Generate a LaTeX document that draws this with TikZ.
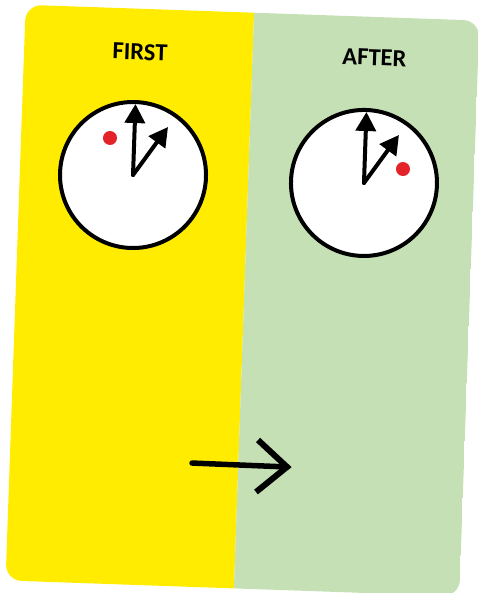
\documentclass[tikz,border=0pt]{standalone}
\usepackage{fontspec}
\setmainfont{Carlito}
\usetikzlibrary{arrows.meta,calc}
\definecolor{cardyellow}{RGB}{255,236,0}
\definecolor{cardgreen}{RGB}{197,224,180}
\definecolor{dotred}{RGB}{228,34,41}
\tikzset{
  clockface/.style={circle, draw=black, fill=white, line width=4pt, minimum size=146pt, inner sep=0pt},
  hand/.style={line width=4pt, line cap=round, -{Triangle[width=20pt,length=19pt]}},
  reddot/.style={circle, fill=dotred, minimum size=14pt, inner sep=0pt},
  heading/.style={font=\bfseries\fontsize{24.5}{28}\selectfont, inner sep=0pt},
  bigarrow/.style={line width=5.5pt, line cap=round}
}
\begin{document}
\begin{tikzpicture}[x=1pt,y=-1pt]
\useasboundingbox (0,0) rectangle (477,593);
\begin{scope}[rotate around={-2:(242.5,300.5)}, transform shape]
  \begin{scope}
    \clip[rounded corners=16pt] (15.5,12.5) rectangle (469.5,588.5);
    \fill[cardyellow] (15.5,12.5) rectangle (244,588.5);
    \fill[cardgreen] (244,12.5) rectangle (469.5,588.5);
  \end{scope}
  % headings
  \node[heading] (first) at (131.4,55.7) {FIRST};
  \node[heading] (after) at (365.9,53) {AFTER};
  % left clock
  \node[clockface] (c1) at (128.7,178.9) {};
  \draw[hand] (c1.center) -- ++(0,-71);
  \draw[hand] (c1.center) -- ++(33.3,-49.2);
  \node[reddot] (d1) at ($(c1.center)+(-24.3,-36.2)$) {};
  % right clock
  \node[clockface] (c2) at (359.8,178.8) {};
  \draw[hand] (c2.center) -- ++(0,-71);
  \draw[hand] (c2.center) -- ++(33.3,-49.2);
  \node[reddot] (d2) at ($(c2.center)+(38.5,-15.3)$) {};
  % arrow
  \coordinate (as) at (197.7,464.7);
  \coordinate (at) at (292.8,465.3);
  \coordinate (au) at (262.9,439.4);
  \coordinate (ad) at (262.7,491.4);
  \draw[bigarrow] (as) -- (at);
  \draw[line width=6pt, line cap=butt, line join=miter] (au) -- (at) -- (ad);
\end{scope}
\end{tikzpicture}
\end{document}
